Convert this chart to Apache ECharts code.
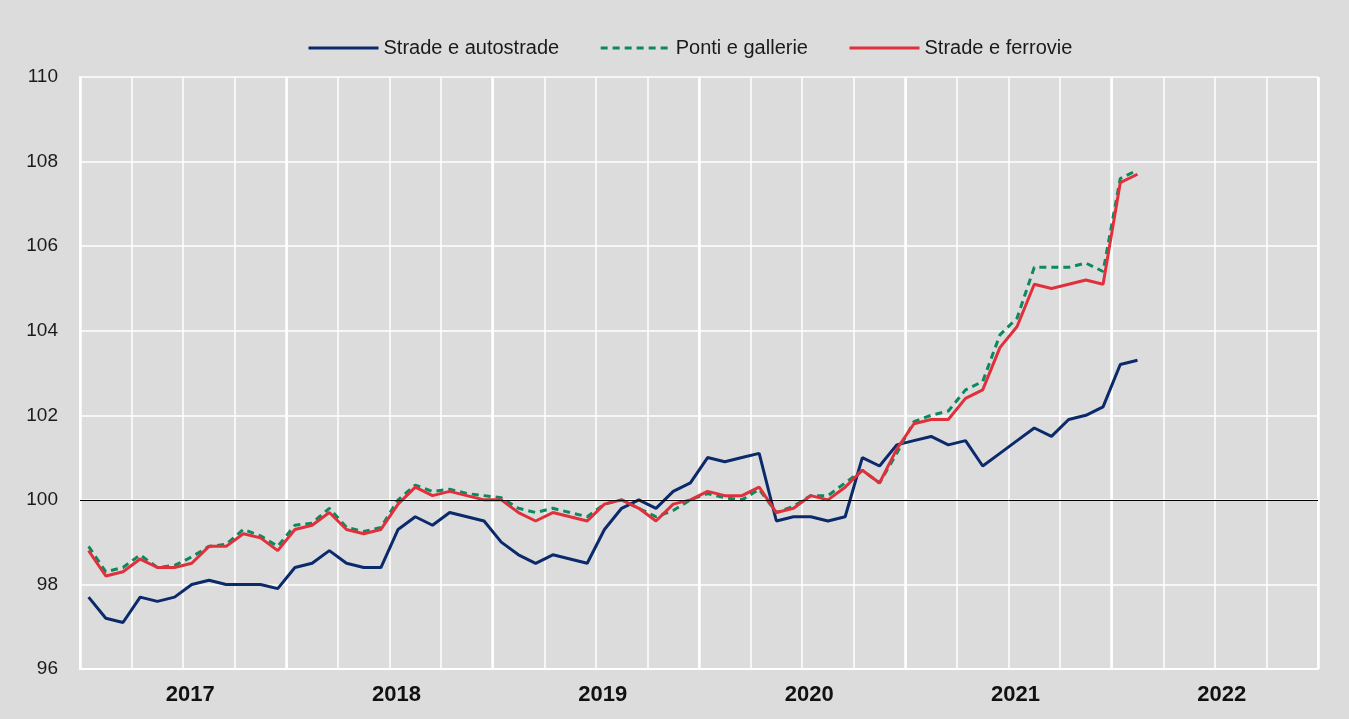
<!DOCTYPE html>
<html>
<head>
<meta charset="utf-8">
<script src="https://cdn.jsdelivr.net/npm/echarts@6/dist/echarts.min.js"></script>
<style>
    html, body { margin: 0; padding: 0; background: #dcdcdc; }
    #chart { width: 1349px; height: 719px; }
</style>
</head>
<body>
<div id="chart"></div>
<script>
const years = ["2017", "2018", "2019", "2020", "2021", "2022"];
const monthNames = ["01", "02", "03", "04", "05", "06", "07", "08", "09", "10", "11", "12"];
const yTicks = { min: 96, max: 110, step: 2 };

// Jan 2017 - Feb 2022
const stradeAutostrade = [
    97.7, 97.2, 97.1, 97.7, 97.6, 97.7, 98.0, 98.1, 98.0, 98.0, 98.0, 97.9,
    98.4, 98.5, 98.8, 98.5, 98.4, 98.4, 99.3, 99.6, 99.4, 99.7, 99.6, 99.5,
    99.0, 98.7, 98.5, 98.7, 98.6, 98.5, 99.3, 99.8, 100.0, 99.8, 100.2, 100.4,
    101.0, 100.9, 101.0, 101.1, 99.5, 99.6, 99.6, 99.5, 99.6, 101.0, 100.8, 101.3,
    101.4, 101.5, 101.3, 101.4, 100.8, 101.1, 101.4, 101.7, 101.5, 101.9, 102.0, 102.2,
    103.2, 103.3
];
const pontiGallerie = [
    98.9, 98.3, 98.4, 98.7, 98.4, 98.45, 98.65, 98.9, 98.95, 99.3, 99.15, 98.9,
    99.4, 99.45, 99.8, 99.35, 99.25, 99.35, 100.0, 100.35, 100.2, 100.25, 100.15, 100.1,
    100.05, 99.8, 99.7, 99.8, 99.7, 99.6, 99.9, 100.0, 99.8, 99.6, 99.75, 100.0,
    100.15, 100.05, 100.0, 100.25, 99.7, 99.85, 100.1, 100.1, 100.4, 100.7, 100.4, 101.1,
    101.85, 102.0, 102.1, 102.6, 102.8, 103.9, 104.3, 105.5, 105.5, 105.5, 105.6, 105.4,
    107.6, 107.8
];
const stradeFerrovie = [
    98.8, 98.2, 98.3, 98.6, 98.4, 98.4, 98.5, 98.9, 98.9, 99.2, 99.1, 98.8,
    99.3, 99.4, 99.7, 99.3, 99.2, 99.3, 99.9, 100.3, 100.1, 100.2, 100.1, 100.0,
    100.0, 99.7, 99.5, 99.7, 99.6, 99.5, 99.9, 100.0, 99.8, 99.5, 99.9, 100.0,
    100.2, 100.1, 100.1, 100.3, 99.7, 99.8, 100.1, 100.0, 100.3, 100.7, 100.4, 101.2,
    101.8, 101.9, 101.9, 102.4, 102.6, 103.6, 104.1, 105.1, 105.0, 105.1, 105.2, 105.1,
    107.5, 107.7
];

const months = [];
years.forEach(y => monthNames.forEach(m => months.push(y + "-" + m)));

const fontFamily = "'Liberation Sans Narrow', 'Liberation Sans', Arial, sans-serif";
const white = "#ffffff";

const lineSeries = (name, data, color, type) => ({
    name,
    type: "line",
    data,
    xAxisIndex: 0,
    symbol: "none",
    smooth: false,
    color,
    lineStyle: { color, width: 3, type: type || "solid" },
    z: 3
});

const option = {
    backgroundColor: "#dcdcdc",
    textStyle: { fontFamily },
    animation: false,
    grid: { left: 80, right: 31, top: 77, bottom: 50 },
    legend: {
        top: 33,
        left: 302,
        itemWidth: 70,
        itemHeight: 12,
        itemGap: 40,
        itemStyle: { opacity: 0 },
        lineStyle: { width: 3 },
        textStyle: { fontSize: 20, color: "#1a1a1a", fontFamily },
        data: ["Strade e autostrade", "Ponti e gallerie", "Strade e ferrovie"]
    },
    xAxis: [
        {
            type: "category",
            data: months,
            boundaryGap: true,
            axisLine: { show: true, lineStyle: { color: white, width: 2 } },
            axisTick: { show: false },
            axisLabel: { show: false },
            splitLine: { show: true, interval: 2, lineStyle: { color: white, width: 1.5 } }
        },
        {
            type: "category",
            data: years,
            position: "bottom",
            boundaryGap: true,
            axisLine: { show: false },
            axisTick: { show: false },
            axisLabel: {
                fontSize: 22, fontWeight: "bold", color: "#111", margin: 15,
                padding: [0, 0, 0, 14], fontFamily
            },
            splitLine: { show: true, lineStyle: { color: white, width: 2.5 } }
        }
    ],
    yAxis: {
        type: "value",
        min: yTicks.min,
        max: yTicks.max,
        interval: yTicks.step,
        axisLine: { show: true, lineStyle: { color: white, width: 2 } },
        axisTick: { show: false },
        axisLabel: { fontSize: 19, color: "#1a1a1a", margin: 22, fontFamily },
        splitLine: { lineStyle: { color: white, width: 1.5 } }
    },
    series: [
        Object.assign(lineSeries("Strade e autostrade", stradeAutostrade, "#0b2a6b"), {
            markLine: {
                silent: true,
                symbol: "none",
                label: { show: false },
                lineStyle: { color: "#000", width: 1, type: "solid" },
                data: [{ yAxis: 100 }]
            }
        }),
        lineSeries("Ponti e gallerie", pontiGallerie, "#0b8a5e", [7, 5]),
        lineSeries("Strade e ferrovie", stradeFerrovie, "#e0303c")
    ]
};

const chartDom = document.getElementById("chart");
const myChart = echarts.init(chartDom);
myChart.setOption(option);
</script>
</body>
</html>
